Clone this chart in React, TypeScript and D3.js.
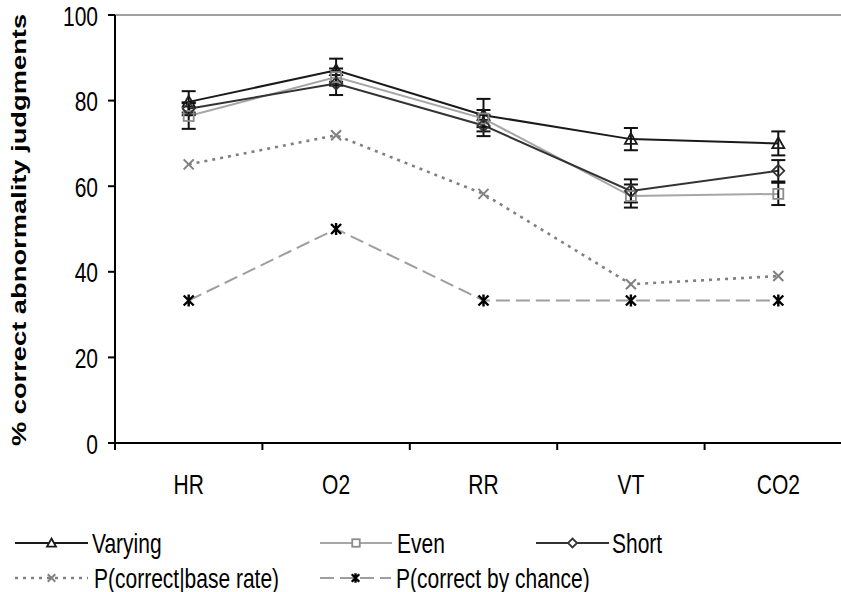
import React from "react";
import * as d3 from "d3";

const categories = ["HR", "O2", "RR", "VT", "CO2"];
const varying = [79.7, 87.1, 76.6, 71.0, 70.0];
const varyingErr = [2.5, 2.7, 3.8, 2.6, 2.8];
const even = [76.4, 85.5, 75.8, 57.7, 58.2];
const evenErr = [3.0, 2.0, 2.0, 2.7, 2.6];
const short = [78.1, 84.0, 74.2, 58.9, 63.6];
const shortErr = [1.5, 2.7, 2.5, 2.7, 2.5];
const baseRate = [65.1, 71.9, 58.2, 37.1, 39.0];
const chance = [33.3, 50, 33.3, 33.3, 33.3];
const yTicks = [0, 20, 40, 60, 80, 100];

const W = 841;
const H = 592;
const FONT = "'Liberation Sans', Arial, sans-serif";
const VS = 1.3; // vertical stretch of text

const x = d3.scaleBand<string>().domain(categories).range([115, 852]);
const y = d3.scaleLinear().domain([0, 100]).range([443, 15]);
const cx = (c: string) => (x(c) as number) + x.bandwidth() / 2;

const lineGen = d3
  .line<number>()
  .x((_, i) => cx(categories[i]))
  .y((d) => y(d));

function T({
  tx,
  ty,
  anchor,
  size,
  children,
  bold,
}: {
  tx: number;
  ty: number;
  anchor?: string;
  size: number;
  children: React.ReactNode;
  bold?: boolean;
}) {
  return (
    <text
      transform={`translate(${tx},${ty}) scale(1,${VS})`}
      dy="0.35em"
      textAnchor={anchor || "start"}
      fontSize={size}
      fontWeight={bold ? "bold" : "normal"}
      fill="#000"
    >
      {children}
    </text>
  );
}

function Marker({ kind, px, py, color, k = 1 }: { kind: string; px: number; py: number; color: string; k?: number }) {
  const fill = k < 1 ? "#fff" : "none";
  if (kind === "tri") {
    const s = 6 * k;
    return (
      <path
        d={`M${px},${py - s}L${px + s},${py + s * 0.8}L${px - s},${py + s * 0.8}Z`}
        fill={fill}
        stroke={color}
        strokeWidth={1.8}
      />
    );
  }
  if (kind === "sq") {
    const s = 5 * k;
    return <rect x={px - s} y={py - s} width={2 * s} height={2 * s} fill={fill} stroke={color} strokeWidth={1.8} />;
  }
  if (kind === "dia") {
    const s = 6 * k;
    return (
      <path
        d={`M${px},${py - s}L${px + s},${py}L${px},${py + s}L${px - s},${py}Z`}
        fill={fill}
        stroke={color}
        strokeWidth={1.8}
      />
    );
  }
  if (kind === "x") {
    const s = 5 * k;
    return (
      <path
        d={`M${px - s},${py - s}L${px + s},${py + s}M${px - s},${py + s}L${px + s},${py - s}`}
        stroke={color}
        strokeWidth={2}
      />
    );
  }
  const s = 5 * k;
  return (
    <path
      d={`M${px - s},${py - s}L${px + s},${py + s}M${px - s},${py + s}L${px + s},${py - s}M${px},${py - s - 1}L${px},${py + s + 1}`}
      stroke={color}
      strokeWidth={2.4}
    />
  );
}

function ErrorBars({ values, errs }: { values: number[]; errs: number[] }) {
  return (
    <g stroke="#111" strokeWidth={2}>
      {values.map((v, i) => {
        const px = cx(categories[i]);
        const t = y(v + errs[i]);
        const b = y(v - errs[i]);
        return (
          <g key={i}>
            <line x1={px} x2={px} y1={t} y2={b} />
            <line x1={px - 7} x2={px + 7} y1={t} y2={t} />
            <line x1={px - 7} x2={px + 7} y1={b} y2={b} />
          </g>
        );
      })}
    </g>
  );
}

const series = [
  { name: "Varying", data: varying, color: "#1a1a1a", marker: "tri", markerColor: "#1a1a1a", dash: "", width: 2 },
  { name: "Even", data: even, color: "#a6a6a6", marker: "sq", markerColor: "#8c8c8c", dash: "", width: 2 },
  { name: "Short", data: short, color: "#333333", marker: "dia", markerColor: "#333333", dash: "", width: 2 },
  { name: "P(correct|base rate)", data: baseRate, color: "#808080", marker: "x", markerColor: "#808080", dash: "3,5", width: 2.6 },
  { name: "P(correct by chance)", data: chance, color: "#9e9e9e", marker: "star", markerColor: "#000000", dash: "14,6", width: 2 },
];

const legendPos = [
  { lx1: 15, lx2: 88, tx: 92, ty: 543 },
  { lx1: 320, lx2: 392, tx: 397, ty: 543 },
  { lx1: 536, lx2: 609, tx: 612, ty: 543 },
  { lx1: 15, lx2: 88, tx: 94, ty: 578 },
  { lx1: 320, lx2: 391, tx: 396, ty: 578 },
];

export default function App() {
  return (
    <div style={{ position: "absolute", left: 0, top: 0 }}>
      <svg width={W} height={H} style={{ display: "block", fontFamily: FONT }}>
        <rect x={0} y={0} width={W} height={H} fill="#fff" />
        <line x1={115} x2={852} y1={15} y2={15} stroke="#808080" strokeWidth={1.5} />
        {series.map((s) => (
          <path
            key={s.name}
            d={lineGen(s.data) as string}
            fill="none"
            stroke={s.color}
            strokeWidth={s.width}
            strokeDasharray={s.dash || undefined}
          />
        ))}
        <ErrorBars values={varying} errs={varyingErr} />
        <ErrorBars values={even} errs={evenErr} />
        <ErrorBars values={short} errs={shortErr} />
        {series.map((s) => (
          <g key={s.name + "m"}>
            {s.data.map((v, i) => (
              <Marker key={i} kind={s.marker} px={cx(categories[i])} py={y(v)} color={s.markerColor} />
            ))}
          </g>
        ))}
        <line x1={115} x2={115} y1={15} y2={443} stroke="#000" strokeWidth={2} />
        <line x1={115} x2={852} y1={443} y2={443} stroke="#000" strokeWidth={2} />
        {yTicks.map((t) => (
          <g key={t}>
            <line x1={108} x2={115} y1={y(t)} y2={y(t)} stroke="#000" strokeWidth={2} />
            <T tx={98} ty={y(t) + 1} anchor="end" size={21}>
              {t}
            </T>
          </g>
        ))}
        {categories.map((c, i) => (
          <line key={c + "t"} x1={115 + i * x.step()} x2={115 + i * x.step()} y1={443} y2={450} stroke="#000" strokeWidth={2} />
        ))}
        <line x1={852} x2={852} y1={443} y2={450} stroke="#000" strokeWidth={2} />
        {categories.map((c) => (
          <T key={c} tx={cx(c)} ty={484} anchor="middle" size={21}>
            {c}
          </T>
        ))}
        <text
          transform={`translate(19,230) scale(1,${VS}) rotate(-90)`}
          dy="0.35em"
          textAnchor="middle"
          fontSize={21}
          fontWeight="bold"
          fill="#000"
        >
          % correct abnormality judgments
        </text>
        {series.map((s, i) => {
          const p = legendPos[i];
          const mx = (p.lx1 + p.lx2) / 2;
          return (
            <g key={s.name + "l"}>
              <line
                x1={p.lx1}
                x2={p.lx2}
                y1={p.ty}
                y2={p.ty}
                stroke={s.color}
                strokeWidth={s.width}
                strokeDasharray={s.dash || undefined}
              />
              <Marker kind={s.marker} px={mx} py={p.ty} color={s.markerColor} k={0.75} />
              <T tx={p.tx} ty={p.ty} size={21}>
                {s.name}
              </T>
            </g>
          );
        })}
      </svg>
    </div>
  );
}
